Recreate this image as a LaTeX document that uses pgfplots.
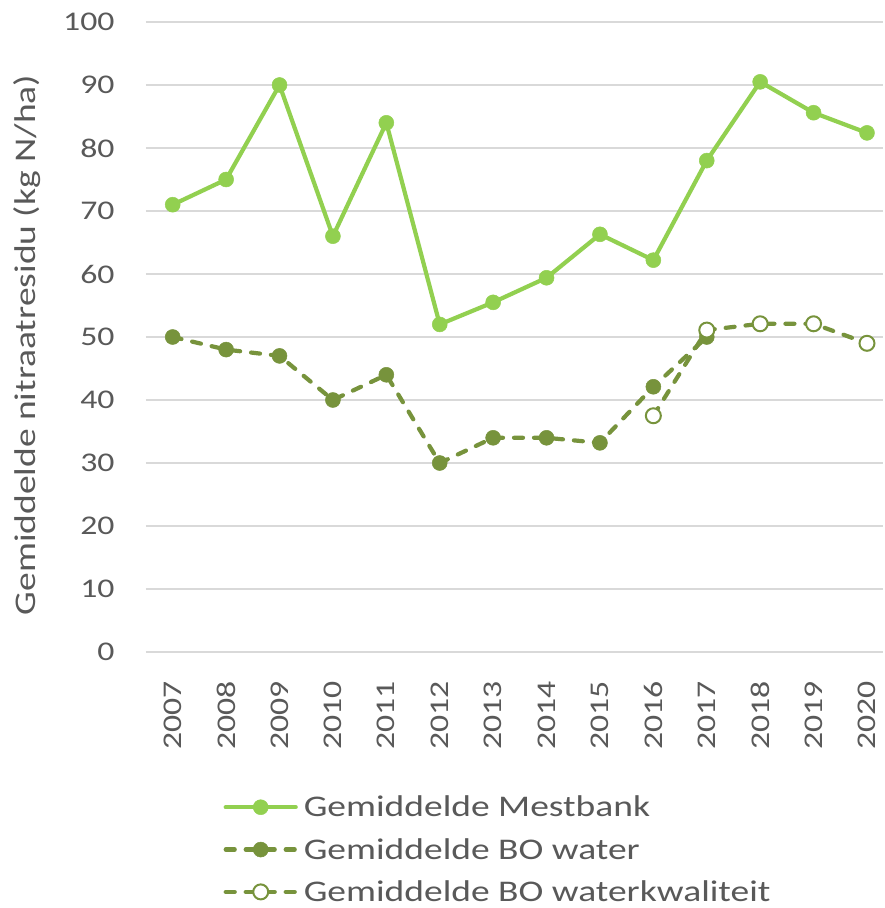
\documentclass[border=0pt]{standalone}
\usepackage{fontspec}
\setmainfont{Carlito}[FakeStretch=1.25]
\usepackage{pgfplots}
\pgfplotsset{compat=1.18}
\definecolor{mestgreen}{HTML}{92D050}
\definecolor{bogreen}{HTML}{77933C}
\definecolor{txtgray}{HTML}{595959}
\definecolor{gridgray}{HTML}{D9D9D9}

\begin{document}
\begin{tikzpicture}
\useasboundingbox (-146pt,-256pt) rectangle (738pt,652pt);
\begin{axis}[
  at={(0pt,0pt)}, anchor=south west,
  scale only axis,
  width=737pt, height=630pt,
  xmin=-0.5, xmax=13.3,
  ymin=0, ymax=100,
  xtick={0,...,13},
  xticklabels={2007,2008,2009,2010,2011,2012,2013,2014,2015,2016,2017,2018,2019,2020},
  ytick={0,10,...,100},
  ymajorgrids,
  grid style={draw=gridgray, line width=1.2pt},
  axis line style={draw=none},
  axis x line*=bottom,
  x axis line style={draw=gridgray, line width=1.2pt},
  axis y line*=left,
  y axis line style={draw=none},
  major tick length=0pt,
  /pgf/number format/assume math mode=true,
  yticklabel style={font=\fontsize{27}{31}\selectfont, text=txtgray, xshift=-28pt},
  xticklabel style={font=\fontsize{27}{31}\selectfont, text=txtgray, yshift=-26pt, rotate=90, anchor=east},
  ylabel={Gemiddelde nitraatresidu (kg N/ha)},
  ylabel style={font=\fontsize{30}{34}\selectfont, text=txtgray, yshift=16pt, xshift=-8pt},
  legend cell align=left,
  legend style={at={(0.101,-0.222)}, anchor=north west, draw=none, fill=none,
    font=\fontsize{30}{34}\selectfont, text=txtgray, row sep=16pt,
    /tikz/every odd column/.append style={column sep=4pt}},
  legend image code/.code={
    \draw[#1, mark repeat=2, mark phase=2] plot coordinates {(0pt,0pt) (35pt,0pt) (70pt,0pt)};
  },
]
\addplot[mestgreen, line width=4.2pt, line cap=round, mark=*, mark size=7.5pt, mark options={solid, fill=mestgreen, draw=mestgreen, line width=0.5pt}]
  coordinates {(0,71) (1,75) (2,90) (3,66) (4,84) (5,52) (6,55.5) (7,59.4) (8,66.3) (9,62.2) (10,78) (11,90.5) (12,85.6) (13,82.4)};
\addplot[bogreen, line width=4.2pt, line cap=round, dash pattern=on 9pt off 11pt, mark=*, mark size=7.5pt, mark options={solid, fill=bogreen, draw=bogreen, line width=0.5pt}]
  coordinates {(0,50) (1,48) (2,47) (3,40) (4,44) (5,30) (6,34) (7,34) (8,33.2) (9,42.1) (10,50)};
\addplot[bogreen, line width=4.2pt, line cap=round, dash pattern=on 9pt off 11pt, mark=*, mark size=7.5pt, mark options={solid, fill=white, draw=bogreen, line width=2pt}]
  coordinates {(9,37.5) (10,51.1) (11,52.1) (12,52.1) (13,49)};
\legend{Gemiddelde Mestbank, Gemiddelde BO water, Gemiddelde BO waterkwaliteit}
\end{axis}
\end{tikzpicture}
\end{document}
